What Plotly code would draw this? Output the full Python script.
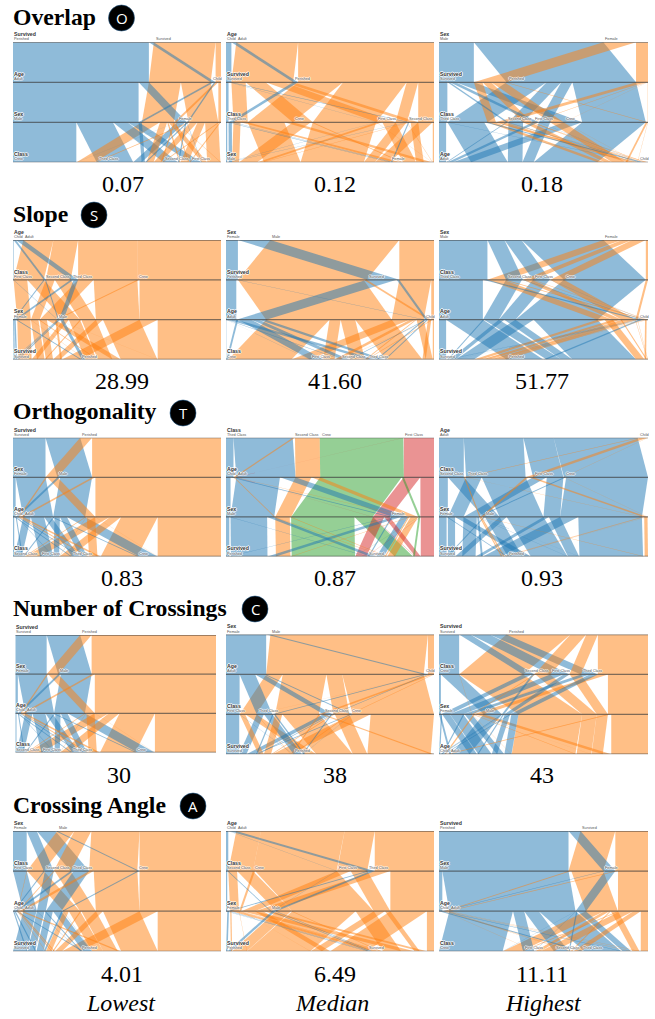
import plotly.graph_objects as go

# ---- data: Titanic head counts read through the ribbon widths ----
CLASSES = ["First Class", "Second Class", "Third Class", "Crew"]
# order inside each list: First, Second, Third, Crew
MALE_CHILD_PERISHED = [0, 0, 35, 0]
FEMALE_CHILD_PERISHED = [0, 0, 17, 0]
MALE_ADULT_PERISHED = [118, 154, 387, 670]
FEMALE_ADULT_PERISHED = [4, 13, 89, 3]
MALE_CHILD_SURVIVED = [5, 11, 13, 0]
FEMALE_CHILD_SURVIVED = [1, 13, 14, 0]
MALE_ADULT_SURVIVED = [57, 14, 75, 192]
FEMALE_ADULT_SURVIVED = [140, 80, 76, 20]

F, S, T, C = "First Class", "Second Class", "Third Class", "Crew"
SECTIONS = ["Overlap", "Slope", "Orthogonality", "Number of Crossings", "Crossing Angle"]
BADGE_LETTERS = ["O", "S", "T", "C", "A"]
METRIC_LABELS = [
    ["0.07", "0.12", "0.18"],
    ["28.99", "41.60", "51.77"],
    ["0.83", "0.87", "0.93"],
    ["30", "38", "43"],
    ["4.01", "6.49", "11.11"],
]
COLUMN_LABELS = ["Lowest", "Median", "Highest"]

SV = "Survived"; AG = "Age"; SX = "Sex"; CL = "Class"
P_FIRST = ["Perished", "Survived"]; S_FIRST = ["Survived", "Perished"]
ADULT_FIRST = ["Adult", "Child"]; CHILD_FIRST = ["Child", "Adult"]
MALE_FIRST = ["Male", "Female"]; FEMALE_FIRST = ["Female", "Male"]

PANELS = [
    [[(SV, P_FIRST), (AG, ADULT_FIRST), (SX, MALE_FIRST), (CL, [C, T, S, F])],
     [(AG, CHILD_FIRST), (SV, S_FIRST), (CL, [T, C, F, S]), (SX, MALE_FIRST)],
     [(SX, MALE_FIRST), (SV, S_FIRST), (CL, [T, S, F, C]), (AG, ADULT_FIRST)]],
    [[(AG, CHILD_FIRST), (CL, [F, S, T, C]), (SX, FEMALE_FIRST), (SV, S_FIRST)],
     [(SX, FEMALE_FIRST), (SV, P_FIRST), (AG, ADULT_FIRST), (CL, [C, F, S, T])],
     [(SX, MALE_FIRST), (CL, [T, S, F, C]), (AG, ADULT_FIRST), (SV, S_FIRST)]],
    [[(SV, S_FIRST), (SX, FEMALE_FIRST), (AG, CHILD_FIRST), (CL, [S, F, T, C])],
     [(CL, [T, S, C, F]), (AG, CHILD_FIRST), (SX, MALE_FIRST), (SV, P_FIRST)],
     [(AG, ADULT_FIRST), (CL, [S, T, F, C]), (SX, FEMALE_FIRST), (SV, S_FIRST)]],
    [[(SV, S_FIRST), (SX, FEMALE_FIRST), (AG, CHILD_FIRST), (CL, [S, F, T, C])],
     [(SX, FEMALE_FIRST), (AG, ADULT_FIRST), (CL, [F, T, S, C]), (SV, S_FIRST)],
     [(SV, S_FIRST), (CL, [C, S, F, T]), (SX, FEMALE_FIRST), (AG, CHILD_FIRST)]],
    [[(SX, FEMALE_FIRST), (CL, [F, S, T, C]), (AG, CHILD_FIRST), (SV, S_FIRST)],
     [(AG, CHILD_FIRST), (CL, [S, C, F, T]), (SX, FEMALE_FIRST), (SV, P_FIRST)],
     [(SV, P_FIRST), (SX, MALE_FIRST), (AG, CHILD_FIRST), (CL, [C, F, S, T])]],
]

# ---- layout constants (pixels) ----
W, H = 655, 1019
COL_X = [(13, 221), (226, 434), (439, 648)]
ROW_Y = [(42.3, 162.3), (240, 359.5), (437.7, 556.5), (634.5, 754.2), (831, 951.3)]
SPECIAL_GEOM = {(3, 0): ((15.3, 216), (635, 752.5))}
TITLE_X = 12.2
TITLE_Y = [17, 214, 411, 608, 805]
BADGE_X = [121.5, 94, 183, 255, 193]
BADGE_Y = [18, 215, 413, 609, 806]
BADGE_R = 13
METRIC_X = [[123, 335, 542], [122, 335, 542], [122, 335, 542], [119, 335, 542], [122, 335, 542]]
METRIC_Y = [184, 381, 578, 775, 974]
COLUMN_LABEL_X = [121, 332, 543]
COLUMN_LABEL_Y = 1003
PALETTE = ["rgba(31,119,180,0.5)", "rgba(255,127,14,0.5)", "rgba(44,160,44,0.5)", "rgba(214,39,40,0.5)"]
AXIS_LINE = "rgba(50,50,50,0.62)"
HALO = "0 1px 0 #fff, 1px 0 0 #fff, 0 -1px 0 #fff, -1px 0 0 #fff"


def build_records():
    rec = {}
    groups = [
        ("Male", "Child", "Perished", MALE_CHILD_PERISHED),
        ("Female", "Child", "Perished", FEMALE_CHILD_PERISHED),
        ("Male", "Adult", "Perished", MALE_ADULT_PERISHED),
        ("Female", "Adult", "Perished", FEMALE_ADULT_PERISHED),
        ("Male", "Child", "Survived", MALE_CHILD_SURVIVED),
        ("Female", "Child", "Survived", FEMALE_CHILD_SURVIVED),
        ("Male", "Adult", "Survived", MALE_ADULT_SURVIVED),
        ("Female", "Adult", "Survived", FEMALE_ADULT_SURVIVED),
    ]
    for sex, age, surv, vals in groups:
        for cl, v in zip(CLASSES, vals):
            rec[(cl, sex, age, surv)] = v
    return rec


RECORDS = build_records()
FIELD_INDEX = {CL: 0, SX: 1, AG: 2, SV: 3}
TOTAL = sum(RECORDS.values())


def count_of(dims, prefix):
    total = 0
    for key, v in RECORDS.items():
        if all(key[FIELD_INDEX[dims[i][0]]] == c for i, c in enumerate(prefix)):
            total += v
    return total


def prefixes(dims, k):
    out = [()]
    for i in range(k + 1):
        out = [p + (c,) for p in out for c in dims[i][1]]
    return out  # lexicographic in the panel's category order


def layout_panel(dims):
    intervals = []
    cat_starts = []
    for k in range(len(dims)):
        cursor = 0
        iv = {}
        starts = []
        for cat in dims[k][1]:
            starts.append(cursor)
            for p in prefixes(dims, k):
                if p[-1] != cat:
                    continue
                n = count_of(dims, p)
                if n > 0:
                    iv[p] = (cursor, cursor + n)
                    cursor += n
        intervals.append(iv)
        cat_starts.append(starts)
    links = []
    for k in range(len(dims) - 1):
        for p in prefixes(dims, k):
            if p not in intervals[k]:
                continue
            s = intervals[k][p][0]
            for c in dims[k + 1][1]:
                child = p + (c,)
                if child in intervals[k + 1]:
                    t0, t1 = intervals[k + 1][child]
                    n = t1 - t0
                    links.append((k, dims[0][1].index(p[0]), s, s + n, t0, t1))
                    s += n
    # larger ribbons underneath, thin ones on top
    links.sort(key=lambda l: -(l[3] - l[2]))
    return links, cat_starts


fig = go.Figure()
layout_axes = {}
annotations = []
shapes = []


def px(x):
    return x / W


def py(y):
    return 1 - y / H


idx = 0
for r, row in enumerate(PANELS):
    for c, dims in enumerate(row):
        idx += 1
        xname = "x" if idx == 1 else f"x{idx}"
        yname = "y" if idx == 1 else f"y{idx}"
        xkey = "xaxis" if idx == 1 else f"xaxis{idx}"
        ykey = "yaxis" if idx == 1 else f"yaxis{idx}"
        (x0, x1), (y0, y1) = SPECIAL_GEOM.get((r, c), (COL_X[c], ROW_Y[r]))
        layout_axes[xkey] = dict(domain=[px(x0), px(x1)], range=[0, TOTAL], visible=False,
                                 anchor=yname, fixedrange=True)
        layout_axes[ykey] = dict(domain=[py(y1), py(y0)], range=[3, 0], visible=False,
                                 anchor=xname, fixedrange=True)
        links, cat_starts = layout_panel(dims)
        for k, color_i, s0, s1, t0, t1 in links:
            fig.add_trace(go.Scatter(
                x=[s0, s1, t1, t0, s0], y=[k, k, k + 1, k + 1, k],
                xaxis=xname, yaxis=yname, mode="lines", fill="toself",
                fillcolor=PALETTE[color_i], line=dict(width=0),
                hoverinfo="skip", showlegend=False))
        ax_x, ax_y = [], []
        for k in range(len(dims)):
            ax_x += [0, TOTAL, None]
            ax_y += [k, k, None]
        fig.add_trace(go.Scatter(x=ax_x, y=ax_y, xaxis=xname, yaxis=yname, mode="lines",
                                 line=dict(color=AXIS_LINE, width=1.3), cliponaxis=False,
                                 hoverinfo="skip", showlegend=False))
        for k, (name, cats) in enumerate(dims):
            annotations.append(dict(text=f"<b>{name}</b>", x=0, y=k, xref=xname, yref=yname,
                                    xanchor="left", yanchor="bottom", yshift=4.2, showarrow=False,
                                    borderpad=0, font=dict(family="Liberation Sans", size=5.2, color="#333333", shadow=HALO)))
            for j, cat in enumerate(cats):
                annotations.append(dict(text=cat, x=cat_starts[k][j], y=k, xref=xname, yref=yname,
                                        xanchor="left", yanchor="bottom", yshift=0, xshift=1 if j else 0,
                                        showarrow=False, borderpad=0,
                                        font=dict(family="Liberation Sans", size=3.8, color="#555555", shadow=HALO)))

for r, title in enumerate(SECTIONS):
    annotations.append(dict(text=f"<b>{title}</b>", x=px(TITLE_X), y=py(TITLE_Y[r]), xref="paper", yref="paper",
                            xanchor="left", yanchor="middle", showarrow=False, borderpad=0,
                            font=dict(family="Liberation Serif", size=23.7, color="#000000")))
    cx, cy = BADGE_X[r], BADGE_Y[r]
    shapes.append(dict(type="circle", xref="paper", yref="paper",
                       x0=px(cx - BADGE_R), x1=px(cx + BADGE_R), y0=py(cy + BADGE_R), y1=py(cy - BADGE_R),
                       fillcolor="#000000", line=dict(color="rgba(31,90,140,0.7)", width=0.8)))
    annotations.append(dict(text=BADGE_LETTERS[r], x=px(cx), y=py(cy), xref="paper", yref="paper",
                            xanchor="center", yanchor="middle", showarrow=False, borderpad=0,
                            font=dict(family="Open Sans", size=15, color="#ffffff")))
    for c, label in enumerate(METRIC_LABELS[r]):
        annotations.append(dict(text=label, x=px(METRIC_X[r][c]), y=py(METRIC_Y[r]), xref="paper", yref="paper",
                                xanchor="center", yanchor="middle", showarrow=False, borderpad=0,
                                font=dict(family="Liberation Serif", size=24, color="#000000")))
for c, label in enumerate(COLUMN_LABELS):
    annotations.append(dict(text=f"<i>{label}</i>", x=px(COLUMN_LABEL_X[c]), y=py(COLUMN_LABEL_Y), xref="paper", yref="paper",
                            xanchor="center", yanchor="middle", showarrow=False, borderpad=0,
                            font=dict(family="Liberation Serif", size=24, color="#000000")))

fig.update_layout(width=W, height=H, margin=dict(l=0, r=0, t=0, b=0), paper_bgcolor="white",
                  plot_bgcolor="white", showlegend=False, annotations=annotations, shapes=shapes,
                  **layout_axes)
fig.write_html("out.html", config={"displayModeBar": False},
               post_script="document.body.style.margin='0';document.body.style.overflow='hidden';")
